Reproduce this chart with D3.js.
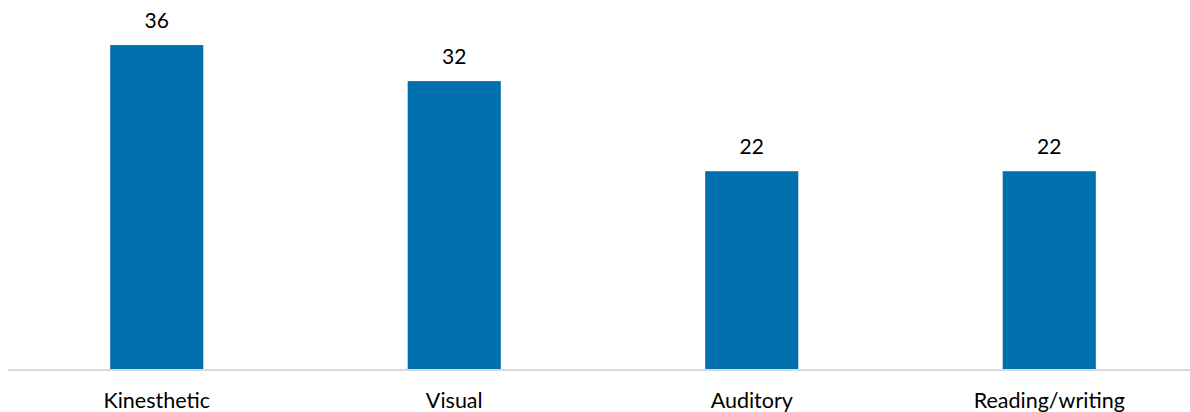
<!DOCTYPE html>
<html>
<head>
<meta charset="utf-8">
<script src="https://cdn.jsdelivr.net/npm/d3@7"></script>
<style>
  body { margin: 0; background: #fff; }
  svg text { font-family: Lato, "Open Sans", sans-serif; fill: #000; }
</style>
</head>
<body>
<div id="chart"></div>
<script>
const categories = ["Kinesthetic", "Visual", "Auditory", "Reading/writing"];
const values = [36, 32, 22, 22];

const width = 1190, height = 412;
const baseline = 369.5;

const svg = d3.select("#chart")
  .append("svg")
  .attr("width", width)
  .attr("height", height);

const x = d3.scaleBand()
  .domain(categories)
  .range([8, 1198])
  .paddingInner(0.687)
  .paddingOuter(0.3435);

const y = d3.scaleLinear()
  .domain([0, 40])
  .range([baseline, 9]);

svg.selectAll(".bar")
  .data(values)
  .enter().append("rect")
  .attr("class", "bar")
  .attr("x", (d, i) => x(categories[i]))
  .attr("y", d => y(d))
  .attr("width", x.bandwidth())
  .attr("height", d => baseline - y(d))
  .attr("fill", "#0070ae");

// axis line
svg.append("line")
  .attr("x1", 8)
  .attr("x2", width)
  .attr("y1", baseline + 0.5)
  .attr("y2", baseline + 0.5)
  .attr("stroke", "#d9d9d9")
  .attr("stroke-width", 2);

svg.selectAll(".value")
  .data(values)
  .enter().append("text")
  .attr("class", "value")
  .attr("x", (d, i) => x(categories[i]) + x.bandwidth() / 2)
  .attr("y", d => y(d) - 17)
  .attr("text-anchor", "middle")
  .attr("font-size", 21)
  .text(d => d);

svg.selectAll(".cat")
  .data(categories)
  .enter().append("text")
  .attr("class", "cat")
  .attr("x", d => x(d) + x.bandwidth() / 2)
  .attr("y", 408)
  .attr("text-anchor", "middle")
  .attr("font-size", 21.5)
  .text(d => d);
</script>
</body>
</html>
